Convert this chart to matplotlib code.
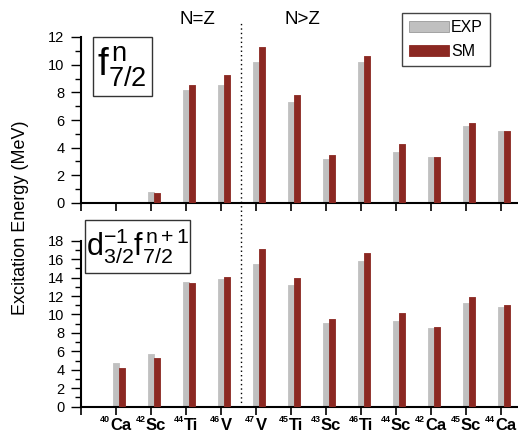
import numpy as np
import matplotlib.pyplot as plt
from matplotlib.patches import Rectangle
from matplotlib.lines import Line2D
import matplotlib.transforms as mtransforms

plt.rcParams['font.family'] = ['Liberation Sans', 'DejaVu Sans']
plt.rcParams['mathtext.fontset'] = 'custom'
plt.rcParams['mathtext.rm'] = 'Liberation Sans'
plt.rcParams['mathtext.it'] = 'Liberation Sans:italic'
plt.rcParams['mathtext.bf'] = 'Liberation Sans:bold'

# nuclei along the x axis
mass = ['40', '42', '44', '46', '47', '45', '43', '46', '44', '42', '45', '44']
elem = ['Ca', 'Sc', 'Ti', 'V', 'V', 'Ti', 'Sc', 'Ti', 'Sc', 'Ca', 'Sc', 'Ca']

# f7/2^n states (MeV)
exp_f = [np.nan, 0.80, 8.19, 8.53, 10.17, 7.27, 3.18, 10.20, 3.69, 3.33, 5.57, 5.23]
sm_f = [np.nan, 0.72, 8.50, 9.23, 11.28, 7.83, 3.44, 10.60, 4.24, 3.30, 5.76, 5.20]

# d3/2^-1 f7/2^n+1 states (MeV)
exp_d = [4.70, 5.68, 13.56, 13.82, 15.44, 13.23, 9.04, 15.80, 9.33, 8.50, 11.21, 10.78]
sm_d = [4.16, 5.25, 13.45, 14.10, 17.07, 13.93, 9.48, 16.64, 10.20, 8.61, 11.93, 11.06]

gray = '#c0c0c0'
red = '#8b2822'
W, H = 518, 443

fig = plt.figure(figsize=(W / 100, H / 100), dpi=100)
ax1 = fig.add_axes([81 / W, 240 / H, 437 / W, 166 / H])
ax2 = fig.add_axes([81 / W, 36.3 / H, 437 / W, 166 / H])

x = np.arange(1, len(mass) + 1)

for ax, e, s, top in [(ax1, exp_f, sm_f, 12), (ax2, exp_d, sm_d, 18)]:
    ax.bar(x, e, width=0.19, color=gray, edgecolor=gray, lw=0.6, joinstyle='round', zorder=2)
    ax.bar(x + 0.175, s, width=0.18, color=red, edgecolor=red, lw=0.6, joinstyle='round', zorder=3)
    ax.set_xlim(0, 437 / 35)
    ax.set_ylim(0, top)
    ax.set_yticks(np.arange(0, top + 1, 2))
    ax.set_yticks(np.arange(0, top + 1, 1), minor=True)
    ax.set_xticks(np.arange(0, len(mass) + 1))
    ax.set_xticklabels([])
    for sp in ['top', 'right']:
        ax.spines[sp].set_visible(False)
    for sp in ['left', 'bottom']:
        ax.spines[sp].set_linewidth(1.5)
    ax.tick_params(axis='y', which='major', direction='out', length=7, width=1, labelsize=10.5, pad=5)
    ax.tick_params(axis='y', which='minor', direction='out', length=4, width=1)
    ax.tick_params(axis='x', which='major', direction='out', length=6, width=1.2)

# x labels: small mass number + bold element symbol, centred on each tick
renderer = fig.canvas.get_renderer()
for xi, m, el in zip(x, mass, elem):
    px = ax2.transData.transform((xi, 0))[0]
    t_el = fig.text(px / W, 1 - 430 / H, el, ha='left', va='baseline',
                    fontsize=12, fontweight='bold')
    t_m = fig.text(px / W, 1 - 421.5 / H, m, ha='right', va='baseline',
                   fontsize=6.5, fontweight='bold')
    we = t_el.get_window_extent(renderer).width
    ws = t_m.get_window_extent(renderer).width
    x0 = px + (ws - we) / 2
    t_el.set_x((x0 + 0.2) / W)
    t_m.set_x((x0 - 0.2) / W)

# dotted separator N=Z | N>Z
tr = mtransforms.blended_transform_factory(ax2.transData, fig.transFigure)
fig.add_artist(Line2D([4.58, 4.58], [(H - 407) / H, (H - 22) / H], transform=tr,
                      color='black', ls=(0, (1, 2.2)), lw=1))

fig.text(197 / W, 1 - 19 / H, 'N=Z', ha='center', va='center', fontsize=13.5)
fig.text(302 / W, 1 - 19 / H, 'N>Z', ha='center', va='center', fontsize=13.5)

fig.text(21 / W, 1 - 218 / H, 'Excitation Energy (MeV)', rotation=90,
         ha='center', va='center', fontsize=13)

# configuration labels in boxes
fig.add_artist(Rectangle((93 / W, 1 - 96 / H), 59 / W, 59 / H, transform=fig.transFigure,
                         fill=False, ec='#333333', lw=1))
fig.text(122 / W, 1 - 67 / H, r'$\mathrm{f}^{\,\mathrm{n}}_{7/2}$', ha='center', va='center',
         fontsize=28)
fig.add_artist(Rectangle((85 / W, 1 - 273 / H), 105 / W, 53 / H, transform=fig.transFigure,
                         fill=False, ec='#333333', lw=1))
fig.text(138 / W, 1 - 246 / H, r'$\mathrm{d}^{-1}_{3/2}\mathrm{f}^{\,\mathrm{n+1}}_{7/2}$',
         ha='center', va='center', fontsize=22)

handles = [Rectangle((0, 0), 1, 1, fc=gray, ec='#999999', lw=0.6),
           Rectangle((0, 0), 1, 1, fc=red, ec=red, lw=0.6)]
fig.legend(handles, ['EXP', 'SM'], loc='upper right', bbox_to_anchor=(490 / W, 1 - 13 / H),
           fontsize=11.5, frameon=True, fancybox=False, edgecolor='#444444', framealpha=1,
           handlelength=2.5, handleheight=0.75, handletextpad=0.1, borderpad=0.45,
           labelspacing=0.55, borderaxespad=0)

fig.savefig('out.png', dpi=100)
